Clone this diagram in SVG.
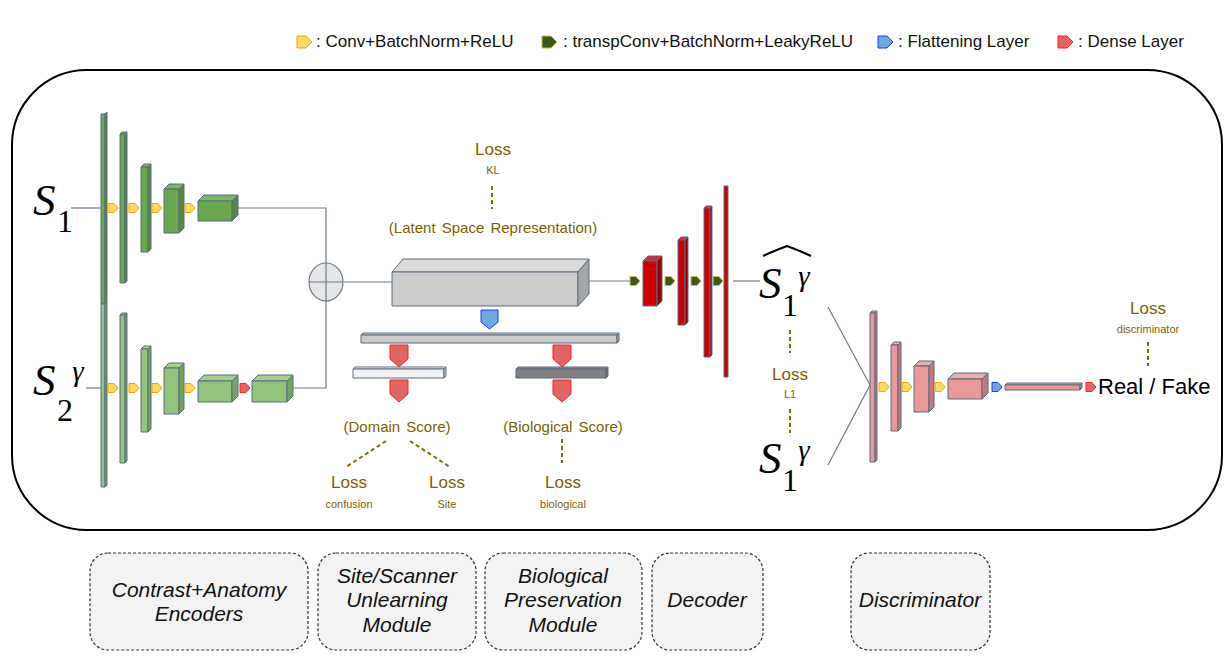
<svg xmlns="http://www.w3.org/2000/svg" width="1228" height="664" viewBox="0 0 1228 664">
<style>
.sans{font-family:"Liberation Sans",Arial,sans-serif}
.math{font-family:"Liberation Serif","Times New Roman",serif;font-style:italic;fill:#000}
.mathn{font-family:"Liberation Serif","Times New Roman",serif;fill:#000}
.legend{font-family:"Liberation Sans",Arial,sans-serif;font-size:17px;fill:#111}
.loss{font-family:"Liberation Sans",Arial,sans-serif;font-size:17px;fill:#7f6000;text-anchor:middle}
.sub{font-family:"Liberation Sans",Arial,sans-serif;font-size:11px;fill:#7f6000;text-anchor:middle}
.lbl{font-family:"Liberation Sans",Arial,sans-serif;font-size:15px;fill:#7f6000;text-anchor:middle;word-spacing:2px}
.mod{font-family:"Liberation Sans",Arial,sans-serif;font-size:21px;font-style:italic;fill:#111;text-anchor:middle}
.modbox{fill:#f3f3f3;stroke:#333;stroke-width:1.2;stroke-dasharray:3 2}
.conn{fill:none;stroke:#6b7a90;stroke-width:1.2}
.dash{fill:none;stroke:#8a6a00;stroke-width:2;stroke-dasharray:4 3}
.edge{stroke:#5b6b80;stroke-width:1;stroke-linejoin:round}
.g1 .f{fill:#6aa84f}.g1 .t{fill:#7bb862}.g1 .s{fill:#558a3e}
.g2 .f{fill:#93c47d}.g2 .t{fill:#a4d08f}.g2 .s{fill:#76a362}
.rd .f{fill:#cc0000}.rd .t{fill:#d92b2b}.rd .s{fill:#990000}
.pk .f{fill:#ea9999}.pk .t{fill:#f0adad}.pk .s{fill:#c47a7a}
.gy .f{fill:#cccccc}.gy .t{fill:#dadada}.gy .s{fill:#a6a6a6}
.wh .f{fill:#f2f2f2}.wh .t{fill:#fafafa}.wh .s{fill:#d0d0d0}
.dk .f{fill:#808080}.dk .t{fill:#999}.dk .s{fill:#666}
.ay{fill:#ffd966;stroke:#f0a30a;stroke-width:1}
.ag{fill:#3a5a1a;stroke:#d6b656;stroke-width:1}
.ab{fill:#6fa8dc;stroke:#1a3cff;stroke-width:1}
.ar{fill:#e06666;stroke:#ff2020;stroke-width:1}
</style>
<defs>
<path id="arR" d="M0,-4.5 H6 L10,0 L6,4.5 H0 Z"/>
<path id="arL" d="M0,-6 H9 L15,0 L9,6 H0 Z"/>
<path id="arD" d="M-9,0 H9 V14 L0,22 L-9,14 Z"/>
<path id="arDb" d="M-8.5,0 H8.5 V12 L0,19 L-8.5,12 Z"/>
</defs>

<g id="frame">
<rect x="12" y="70" width="1210" height="460" rx="75" ry="75" fill="none" stroke="#000" stroke-width="2"/>
</g>

<g id="legend">
<use href="#arL" x="297" y="42" class="ay"/>
<text class="legend" x="316" y="47">: Conv+BatchNorm+ReLU</text>
<use href="#arL" x="542" y="42" class="ag"/>
<text class="legend" x="563" y="47">: transpConv+BatchNorm+LeakyReLU</text>
<use href="#arL" x="878" y="42" class="ab"/>
<text class="legend" x="898" y="47">: Flattening Layer</text>
<use href="#arL" x="1058" y="42" class="ar"/>
<text class="legend" x="1078" y="47">: Dense Layer</text>
</g>

<g id="connectors">
<path class="conn" d="M71,208 H101"/>
<path class="conn" d="M86,388 H101"/>
<path class="conn" d="M238,208 H326 V302"/>
<path class="conn" d="M293,388 H326 V263"/>
<path class="conn" d="M344,282 H392"/>
<path class="conn" d="M589,281 H630"/>
<path class="conn" d="M733,281 H760"/>
<path class="conn" d="M828,307 L870,385 L828,465"/>
<path class="dash" d="M492,186 V209"/>
<path class="dash" d="M386,441 L346,467"/>
<path class="dash" d="M410,441 L450,467"/>
<path class="dash" d="M562,439 V463"/>
<path class="dash" d="M790,330 V353"/>
<path class="dash" d="M790,409 V433"/>
<path class="dash" d="M1148,342 V366"/>
</g>

<g id="input-s1">
<text class="math" x="33" y="215" font-size="45">S</text>
<text class="mathn" x="65" y="232" font-size="32" text-anchor="middle">1</text>
</g>
<g id="input-s2">
<text class="math" x="33" y="395" font-size="45">S</text>
<text class="mathn" x="65" y="421" font-size="32" text-anchor="middle">2</text>
<text class="math" x="78" y="381" font-size="29" text-anchor="middle">γ</text>
</g>

<g id="encoder1" class="g1">
<g class="edge">
<rect class="f" x="101" y="114" width="4" height="190"/><polygon class="s" points="105,114 107,112 107,302 105,304"/>
<polygon class="t" points="120,134 122,132 127,132 125,134"/><rect class="f" x="120" y="134" width="5" height="149"/><polygon class="s" points="125,134 127,132 127,281 125,283"/>
<polygon class="t" points="141,167 144,164 151,164 148,167"/><rect class="f" x="141" y="167" width="7" height="85"/><polygon class="s" points="148,167 151,164 151,249 148,252"/>
<polygon class="t" points="164,189 169,184 184,184 179,189"/><rect class="f" x="164" y="189" width="15" height="44"/><polygon class="s" points="179,189 184,184 184,228 179,233"/>
<polygon class="t" points="198,201 204,195 238,195 232,201"/><rect class="f" x="198" y="201" width="34" height="20"/><polygon class="s" points="232,201 238,195 238,215 232,221"/>
</g>
<use href="#arR" x="108" y="208" class="ay"/>
<use href="#arR" x="129" y="208" class="ay"/>
<use href="#arR" x="152" y="208" class="ay"/>
<use href="#arR" x="185" y="208" class="ay"/>
</g>

<g id="encoder2" class="g2">
<g class="edge">
<rect class="f" x="101" y="304" width="4" height="183"/><polygon class="s" points="105,304 107,302 107,485 105,487"/>
<polygon class="t" points="120,315 122,313 127,313 125,315"/><rect class="f" x="120" y="315" width="5" height="148"/><polygon class="s" points="125,315 127,313 127,461 125,463"/>
<polygon class="t" points="141,349 144,346 151,346 148,349"/><rect class="f" x="141" y="349" width="7" height="83"/><polygon class="s" points="148,349 151,346 151,429 148,432"/>
<polygon class="t" points="164,368 169,363 184,363 179,368"/><rect class="f" x="164" y="368" width="15" height="46"/><polygon class="s" points="179,368 184,363 184,409 179,414"/>
<polygon class="t" points="198,381 204,375 238,375 232,381"/><rect class="f" x="198" y="381" width="34" height="21"/><polygon class="s" points="232,381 238,375 238,396 232,402"/>
<polygon class="t" points="252,381 258,375 293,375 287,381"/><rect class="f" x="252" y="381" width="35" height="21"/><polygon class="s" points="287,381 293,375 293,396 287,402"/>
</g>
<use href="#arR" x="108" y="388" class="ay"/>
<use href="#arR" x="129" y="388" class="ay"/>
<use href="#arR" x="152" y="388" class="ay"/>
<use href="#arR" x="185" y="388" class="ay"/>
<use href="#arR" x="240" y="388" class="ar"/>
</g>

<g id="sum">
<ellipse cx="326" cy="282" rx="17" ry="19" fill="#e6e6e6" stroke="#6b7a90" stroke-width="1.2"/>
<path d="M309,282 H343 M326,263 V301" stroke="#6b7a90" stroke-width="1.2"/>
</g>

<g id="latent" class="gy">
<g class="edge">
<polygon class="t" points="392,272 403,259 589,259 578,272"/>
<rect class="f" x="392" y="272" width="186" height="34"/>
<polygon class="s" points="578,272 589,259 589,294 578,306"/>
</g>
<text class="loss" x="493" y="155">Loss</text>
<text class="sub" x="493" y="174">KL</text>
<text class="lbl" x="493" y="233">(Latent Space Representation)</text>
</g>

<g id="flatten">
<use href="#arDb" x="489.5" y="310" class="ab"/>
<g class="gy edge">
<polygon class="t" points="361,335 363,333 619,333 617,335"/>
<rect class="f" x="361" y="335" width="256" height="8"/>
<polygon class="s" points="617,335 619,333 619,341 617,343"/>
</g>
</g>

<g id="domain-branch">
<use href="#arD" x="399" y="345" class="ar"/>
<g class="wh edge">
<polygon class="t" points="353,369 355,367 446,367 444,369"/>
<rect class="f" x="353" y="369" width="91" height="9"/>
<polygon class="s" points="444,369 446,367 446,376 444,378"/>
</g>
<use href="#arD" x="399" y="380" class="ar"/>
<text class="lbl" x="397" y="432">(Domain Score)</text>
<text class="loss" x="349" y="488">Loss</text>
<text class="sub" x="349" y="508">confusion</text>
<text class="loss" x="447" y="488">Loss</text>
<text class="sub" x="447" y="508">Site</text>
</g>

<g id="bio-branch">
<use href="#arD" x="562" y="345" class="ar"/>
<g class="dk edge">
<polygon class="t" points="516,369 518,367 608,367 606,369"/>
<rect class="f" x="516" y="369" width="90" height="9"/>
<polygon class="s" points="606,369 608,367 608,376 606,378"/>
</g>
<use href="#arD" x="562" y="380" class="ar"/>
<text class="lbl" x="563" y="432">(Biological Score)</text>
<text class="loss" x="563" y="488">Loss</text>
<text class="sub" x="563" y="508">biological</text>
</g>

<g id="decoder" class="rd">
<g class="edge">
<polygon class="t" points="643,261 648,256 662,256 657,261"/><rect class="f" x="643" y="261" width="14" height="45"/><polygon class="s" points="657,261 662,256 662,301 657,306"/>
<polygon class="t" points="678,240 681,237 688,237 685,240"/><rect class="f" x="678" y="240" width="7" height="85"/><polygon class="s" points="685,240 688,237 688,322 685,325"/>
<polygon class="t" points="704,208 706,206 712,206 710,208"/><rect class="f" x="704" y="208" width="6" height="149"/><polygon class="s" points="710,208 712,206 712,355 710,357"/>
<rect class="f" x="724" y="186" width="4" height="191"/>
</g>
<use href="#arR" x="630" y="281" class="ag"/>
<use href="#arR" x="665" y="281" class="ag"/>
<use href="#arR" x="691" y="281" class="ag"/>
<use href="#arR" x="713" y="281" class="ag"/>
</g>

<g id="output-s1hat">
<path d="M763,256 Q776,250 787,246 Q798,250 811,256" fill="none" stroke="#000" stroke-width="2"/>
<text class="math" x="759" y="298" font-size="45">S</text>
<text class="mathn" x="790" y="316" font-size="32" text-anchor="middle">1</text>
<text class="math" x="804" y="286" font-size="29" text-anchor="middle">γ</text>
</g>

<g id="loss-l1">
<text class="loss" x="790" y="380">Loss</text>
<text class="sub" x="790" y="398">L1</text>
</g>

<g id="target-s1">
<text class="math" x="759" y="473" font-size="45">S</text>
<text class="mathn" x="790" y="491" font-size="32" text-anchor="middle">1</text>
<text class="math" x="804" y="460" font-size="29" text-anchor="middle">γ</text>
</g>

<g id="discriminator" class="pk">
<g class="edge">
<polygon class="t" points="870,313 872,311 877,311 875,313"/><rect class="f" x="870" y="313" width="5" height="149"/><polygon class="s" points="875,313 877,311 877,460 875,462"/>
<polygon class="t" points="891,345 894,342 901,342 898,345"/><rect class="f" x="891" y="345" width="7" height="86"/><polygon class="s" points="898,345 901,342 901,428 898,431"/>
<polygon class="t" points="914,366 919,361 934,361 929,366"/><rect class="f" x="914" y="366" width="15" height="46"/><polygon class="s" points="929,366 934,361 934,407 929,412"/>
<polygon class="t" points="948,379 954,373 988,373 982,379"/><rect class="f" x="948" y="379" width="34" height="20"/><polygon class="s" points="982,379 988,373 988,393 982,399"/>
<polygon class="t" points="1005,385 1007,383 1082,383 1080,385"/><rect class="f" x="1005" y="385" width="75" height="5"/><polygon class="s" points="1080,385 1082,383 1082,388 1080,390"/>
</g>
<use href="#arR" x="879" y="387" class="ay"/>
<use href="#arR" x="902" y="387" class="ay"/>
<use href="#arR" x="935" y="387" class="ay"/>
<use href="#arR" x="992" y="387" class="ab"/>
<use href="#arR" x="1086" y="387" class="ar"/>
</g>

<g id="real-fake">
<text class="sans" x="1098" y="394" font-size="22" fill="#000">Real / Fake</text>
<text class="loss" x="1148" y="314">Loss</text>
<text class="sub" x="1148" y="333">discriminator</text>
</g>

<g id="module-encoders">
<rect class="modbox" x="90" y="553" width="218" height="97" rx="18"/>
<text class="mod" x="199" y="597">Contrast+Anatomy</text>
<text class="mod" x="199" y="621">Encoders</text>
</g>
<g id="module-unlearning">
<rect class="modbox" x="318" y="553" width="158" height="97" rx="18"/>
<text class="mod" x="397" y="583">Site/Scanner</text>
<text class="mod" x="397" y="607">Unlearning</text>
<text class="mod" x="397" y="632">Module</text>
</g>
<g id="module-bio">
<rect class="modbox" x="485" y="553" width="157" height="97" rx="18"/>
<text class="mod" x="563" y="583">Biological</text>
<text class="mod" x="563" y="607">Preservation</text>
<text class="mod" x="563" y="632">Module</text>
</g>
<g id="module-decoder">
<rect class="modbox" x="652" y="553" width="111" height="97" rx="18"/>
<text class="mod" x="707" y="607">Decoder</text>
</g>
<g id="module-discriminator">
<rect class="modbox" x="851" y="553" width="139" height="97" rx="18"/>
<text class="mod" x="920" y="607">Discriminator</text>
</g>
</svg>
